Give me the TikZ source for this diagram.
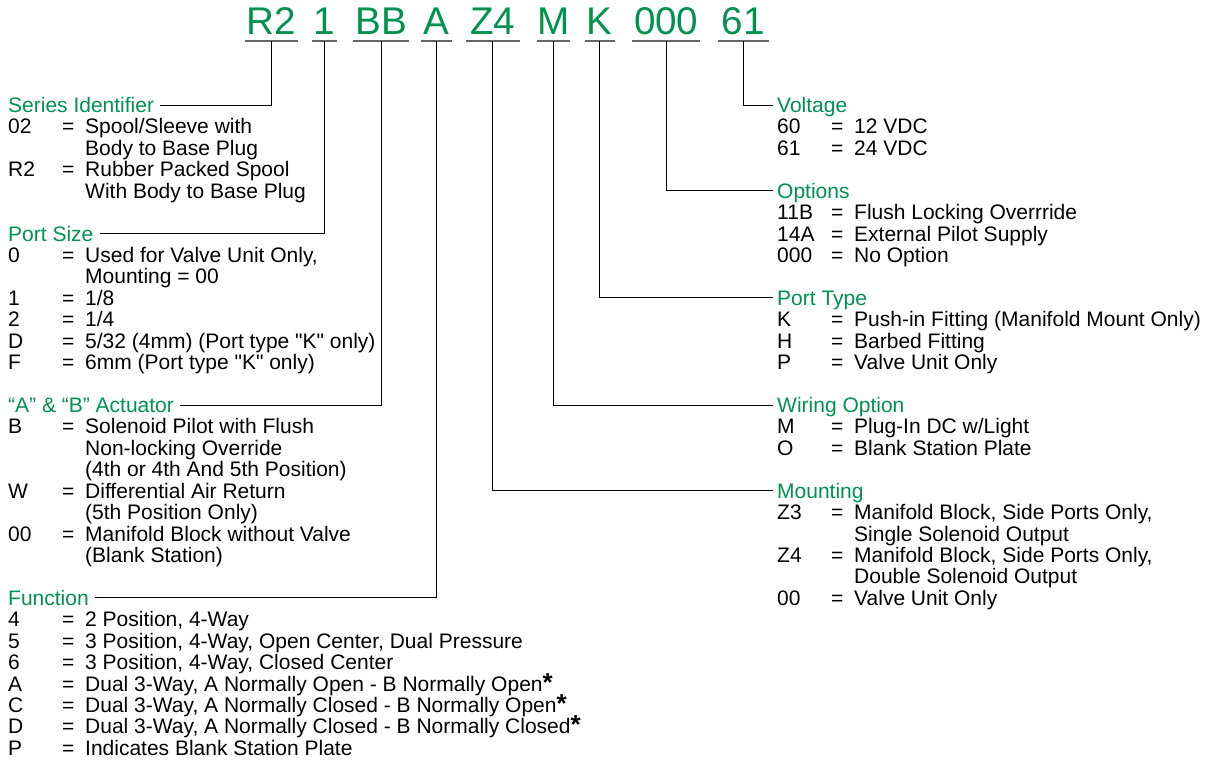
\documentclass[tikz,border=0pt]{standalone}
\usepackage{fontspec}
\setmainfont{Liberation Sans}[Ligatures=TeXOff]
\definecolor{pgreen}{RGB}{0,146,79}
\tikzset{
  body/.style={font=\fontsize{21}{21.43}\selectfont, inner sep=0pt, anchor=base west, text=black},
  head/.style={body, text=pgreen, text height=15pt, text depth=0pt},
  code/.style={font=\fontsize{38.6}{40}\selectfont, text=pgreen, inner sep=0pt, text height=28pt, text depth=6pt, anchor=base},
  uline/.style={draw=black!60, line width=1.8pt},
  conn/.style={draw=black, line width=1pt},
}
\newcommand\rowy[1]{112.5+(#1-1)*21.43}
\newcommand\pentry[5]{\node[body] (#1) at ({#2},{\rowy{#3}}) {\makebox[54pt][l]{#4}\makebox[23pt][l]{=}#5};}
\newcommand\pcont[4]{\node[body] (#1) at ({#2+77},{\rowy{#3}}) {#4};}
\newcommand\phead[4]{\node[head] (#1) at ({#2},{\rowy{#3}}) {#4};}
\newcommand\pstar{{\fontsize{26}{26}\selectfont\bfseries *}}
\begin{document}
\begin{tikzpicture}[x=1pt,y=-1pt]
\useasboundingbox[fill=white] (0,0) rectangle (1215,760);
% code
\node[code, minimum width=52.3pt] (c1) at (271.2,35) {R2};
\node[code, minimum width=24.4pt] (c2) at (324.5,35) {1};
\node[code, minimum width=55.7pt] (c3) at (381.2,35) {BB};
\node[code, minimum width=31pt] (c4) at (436.2,35) {A};
\node[code, minimum width=53.3pt] (c5) at (492.7,35) {Z4};
\node[code, minimum width=30pt] (c6) at (553.3,35) {M};
\node[code, minimum width=29.3pt] (c7) at (599.7,35) {K};
\node[code, minimum width=67.7pt] (c8) at (666.2,35) {000};
\node[code, minimum width=50pt] (c9) at (743.3,35) {61};
\foreach \c in {c1,c2,c3,c4,c5,c6,c7,c8,c9}{
  \draw[uline] (\c.south west) -- (\c.south east);
}
% left column
\phead{hser}{8}{1}{Series Identifier}
\pentry{l2}{8}{2}{02}{Spool/Sleeve with}
\pcont{l3}{8}{3}{Body to Base Plug}
\pentry{l4}{8}{4}{R2}{Rubber Packed Spool}
\pcont{l5}{8}{5}{With Body to Base Plug}
\phead{hps}{8}{7}{Port Size}
\pentry{l8}{8}{8}{0}{Used for Valve Unit Only,}
\pcont{l9}{8}{9}{Mounting = 00}
\pentry{l10}{8}{10}{1}{1/8}
\pentry{l11}{8}{11}{2}{1/4}
\pentry{l12}{8}{12}{D}{5/32 (4mm) (Port type "K" only)}
\pentry{l13}{8}{13}{F}{6mm (Port type "K" only)}
\phead{hact}{8}{15}{“A” \& “B” Actuator}
\pentry{l16}{8}{16}{B}{Solenoid Pilot with Flush}
\pcont{l17}{8}{17}{Non-locking Override}
\pcont{l18}{8}{18}{(4th or 4th And 5th Position)}
\pentry{l19}{8}{19}{W}{Differential Air Return}
\pcont{l20}{8}{20}{(5th Position Only)}
\pentry{l21}{8}{21}{00}{Manifold Block without Valve}
\pcont{l22}{8}{22}{(Blank Station)}
\phead{hfun}{8}{24}{Function}
\pentry{l25}{8}{25}{4}{2 Position, 4-Way}
\pentry{l26}{8}{26}{5}{3 Position, 4-Way, Open Center, Dual Pressure}
\pentry{l27}{8}{27}{6}{3 Position, 4-Way, Closed Center}
\pentry{l28}{8}{28}{A}{Dual 3-Way, A Normally Open - B Normally Open\pstar}
\pentry{l29}{8}{29}{C}{Dual 3-Way, A Normally Closed - B Normally Open\pstar}
\pentry{l30}{8}{30}{D}{Dual 3-Way, A Normally Closed - B Normally Closed\pstar}
\pentry{l31}{8}{31}{P}{Indicates Blank Station Plate}
% right column
\phead{hvol}{777}{1}{Voltage}
\pentry{r2}{777}{2}{60}{12 VDC}
\pentry{r3}{777}{3}{61}{24 VDC}
\phead{hopt}{777}{5}{Options}
\pentry{r6}{777}{6}{11B}{Flush Locking Overrride}
\pentry{r7}{777}{7}{14A}{External Pilot Supply}
\pentry{r8}{777}{8}{000}{No Option}
\phead{hpt}{777}{10}{Port Type}
\pentry{r11}{777}{11}{K}{Push-in Fitting (Manifold Mount Only)}
\pentry{r12}{777}{12}{H}{Barbed Fitting}
\pentry{r13}{777}{13}{P}{Valve Unit Only}
\phead{hwir}{777}{15}{Wiring Option}
\pentry{r16}{777}{16}{M}{Plug-In DC w/Light}
\pentry{r17}{777}{17}{O}{Blank Station Plate}
\phead{hmnt}{777}{19}{Mounting}
\pentry{r20}{777}{20}{Z3}{Manifold Block, Side Ports Only,}
\pcont{r21}{777}{21}{Single Solenoid Output}
\pentry{r22}{777}{22}{Z4}{Manifold Block, Side Ports Only,}
\pcont{r23}{777}{23}{Double Solenoid Output}
\pentry{r24}{777}{24}{00}{Valve Unit Only}
% connectors
\draw[conn] (c1.south) |- ([xshift=6pt]hser.east);
\draw[conn] (c2.south) |- ([xshift=6pt]hps.east);
\draw[conn] (c3.south) |- ([xshift=6pt]hact.east);
\draw[conn] (c4.south) |- ([xshift=6pt]hfun.east);
\draw[conn] (c5.south) |- ([xshift=-4pt]hmnt.west);
\draw[conn] (c6.south) |- ([xshift=-4pt]hwir.west);
\draw[conn] (c7.south) |- ([xshift=-4pt]hpt.west);
\draw[conn] (c8.south) |- ([xshift=-4pt]hopt.west);
\draw[conn] (c9.south) |- ([xshift=-4pt]hvol.west);
\end{tikzpicture}
\end{document}
